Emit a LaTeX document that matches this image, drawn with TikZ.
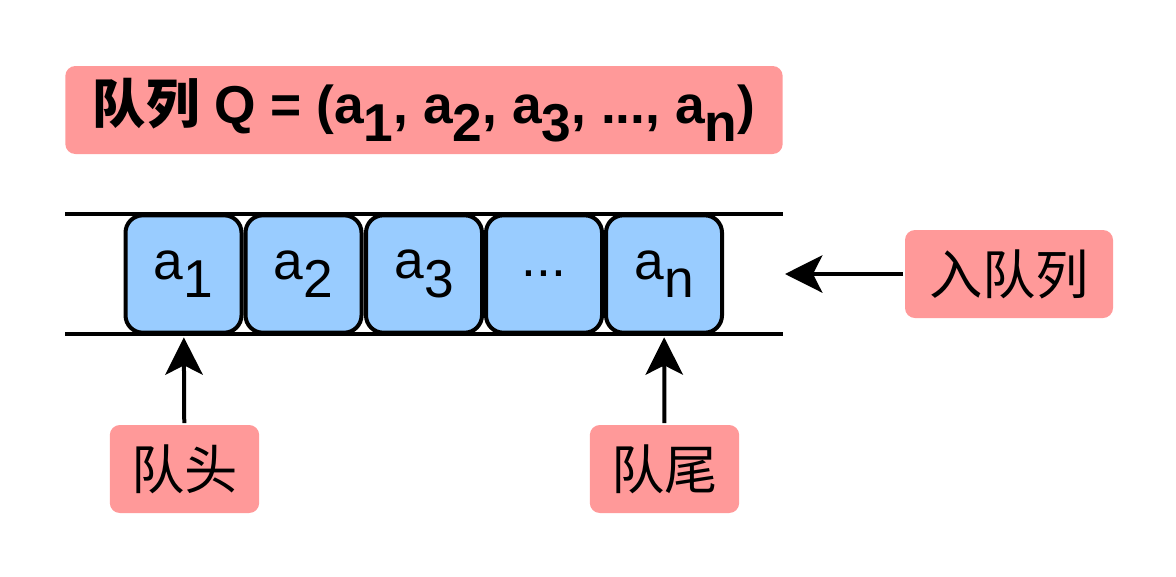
\documentclass[tikz,border=0pt]{standalone}
\usepackage{fontspec}
\setmainfont{Liberation Sans}
\newfontfamily\cjk{Noto Sans CJK SC}
\usetikzlibrary{arrows.meta}
\definecolor{tagpink}{HTML}{FF9999}
\definecolor{cellblue}{HTML}{99CCFF}
\newcommand{\lowsub}[1]{\raisebox{-0.35em}{#1}}
\begin{document}
\begin{tikzpicture}[x=0.75pt, y=-0.75pt, >={Stealth[length=28pt, width=28pt, inset=7pt]}, line width=3pt,
    tag/.style = {fill=tagpink, rounded corners=7.5pt, minimum height=66pt, inner sep=0pt, font=\fontsize{40}{44}\selectfont\cjk},
    cell/.style = {draw, fill=cellblue, rounded corners=13pt, minimum width=87pt, minimum height=88pt, inner sep=0pt, font=\fontsize{40}{44}\selectfont}]
    \useasboundingbox (0,0) rectangle (1176,576);

    \node[tag, minimum width=538pt, font=\bfseries\fontsize{40}{45}\selectfont] (title) at (424,110)
        {{\cjk 队列} Q = (a\lowsub{1}, a\lowsub{2}, a\lowsub{3}, ..., a\lowsub{n})};

    % rails
    \coordinate (topL) at (65,214);
    \coordinate (topR) at (783,214);
    \coordinate (botL) at (65,334);
    \coordinate (botR) at (783,334);
    \draw (topL) -- (topR);
    \draw (botL) -- (botR);

    \node[cell] (a1) at (183.5,274) {a\lowsub{1}};
    \node[cell] (a2) at (303.5,274) {a\lowsub{2}};
    \node[cell] (a3) at (424,274) {a\lowsub{3}};
    \node[cell] (dots) at (544,274) {...};
    \node[cell] (an) at (664,274) {a\lowsub{n}};

    \node[tag, minimum width=156pt] (enq) at (1009,274) {入队列};
    \node[tag, minimum width=112pt] (head) at (184.5,469) {队头};
    \node[tag, minimum width=112pt] (tail) at (664.5,469) {队尾};

    \coordinate (entry) at (785,274);
    \draw[->] (enq) -- (entry);
    \draw[->, shorten >=2pt] (head) -- (a1);
    \draw[->, shorten >=2pt] (tail) -- (an);
\end{tikzpicture}
\end{document}
